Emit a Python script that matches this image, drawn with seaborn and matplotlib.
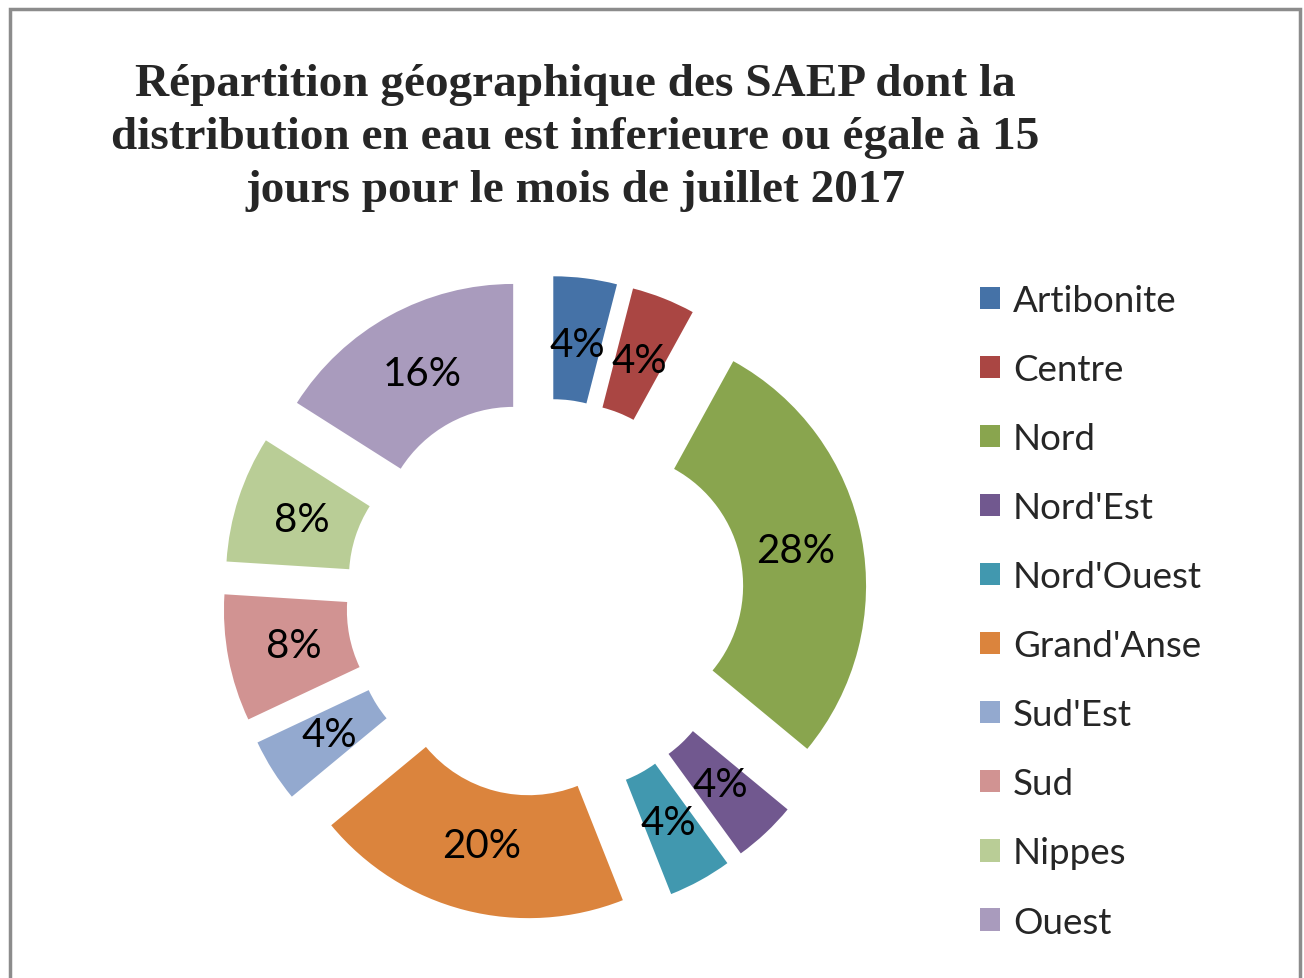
import matplotlib
matplotlib.use("Agg")
import matplotlib.pyplot as plt
import seaborn as sns
from matplotlib.patches import Rectangle, Patch

regions = ["Artibonite", "Centre", "Nord", "Nord'Est", "Nord'Ouest",
           "Grand'Anse", "Sud'Est", "Sud", "Nippes", "Ouest"]
values = [4, 4, 28, 4, 4, 20, 4, 8, 8, 16]
colors = ["#4572A7", "#AA4643", "#89A54E", "#71588F", "#4198AF",
          "#DB843D", "#93A9CF", "#D19392", "#B9CD96", "#A99BBD"]

sns.set_theme(style="white")
plt.rcParams['font.family'] = ['Lato', 'DejaVu Sans']
palette = sns.color_palette(colors)

fig = plt.figure(figsize=(13.04, 9.79), dpi=100)
ax = fig.add_axes([0.1626, 0.048, 0.5107, 0.6803])

wedges, texts, autotexts = ax.pie(
    values, colors=palette, startangle=90, counterclock=False,
    explode=[0.258] * len(values), radius=1.0,
    wedgeprops=dict(width=0.48, edgecolor='none'),
    autopct=lambda p: f"{p:.0f}%", pctdistance=0.74,
    textprops=dict(fontsize=29, color='black'))
ax.set_xlim(-1.3, 1.3)
ax.set_ylim(-1.3, 1.3)
ax.set_aspect('equal')
ax.axis('off')

fig.text(0.441, 0.859,
         "Répartition géographique des SAEP dont la\n"
         "distribution en eau est inferieure ou égale à 15\n"
         "jours pour le mois de juillet 2017",
         ha='center', va='center', fontsize=34, fontweight='bold',
         family='Liberation Serif', linespacing=1.34)

handles = [Patch(facecolor=c, edgecolor='none') for c in palette]
fig.legend(handles, regions, loc='upper left', bbox_to_anchor=(0.7515, 0.709),
           frameon=False, fontsize=26.5, handlelength=0.55, handleheight=0.55,
           handletextpad=0.35, labelspacing=0.98, borderaxespad=0,
           borderpad=0)

fig.patches.append(Rectangle((10 / 1304, -0.1), 1290 / 1304, 1.1 - 10 / 979,
                             transform=fig.transFigure, fill=False,
                             edgecolor='#8c8c8c', linewidth=2.5))

fig.savefig("out.png", dpi=100, facecolor='white')
